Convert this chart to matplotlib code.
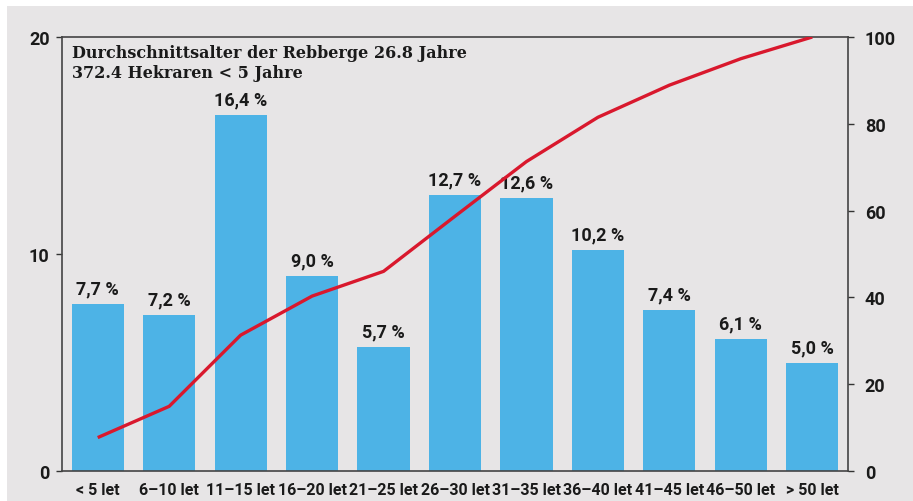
import matplotlib
matplotlib.use("Agg")
import matplotlib.pyplot as plt
from matplotlib.patches import Rectangle

# data
categories = ["< 5 let", "6–10 let", "11–15 let", "16–20 let", "21–25 let", "26–30 let",
              "31–35 let", "36–40 let", "41–45 let", "46–50 let", "> 50 let"]
shares = [7.7, 7.2, 16.4, 9.0, 5.7, 12.7, 12.6, 10.2, 7.4, 6.1, 5.0]
cumulative = [7.7, 14.9, 31.3, 40.3, 46.0, 58.7, 71.3, 81.5, 88.9, 95.0, 100.0]
left_ticks = [0, 10, 20]
right_ticks = [0, 20, 40, 60, 80, 100]
title_lines = ["Durchschnittsalter der Rebberge 26.8 Jahre", "372.4 Hekraren < 5 Jahre"]

BG = "#e7e5e6"
BAR = "#4db3e6"
RED = "#d9182d"
INK = "#1a1a1a"
SANS = ["Liberation Sans Narrow", "Roboto", "DejaVu Sans"]
SERIF = ["DejaVu Serif"]

fig = plt.figure(figsize=(9.13, 5.02), dpi=100, facecolor="white")
fig.patches.append(Rectangle((7 / 913, 0), 1, 1 - 7 / 502, transform=fig.transFigure,
                             facecolor=BG, edgecolor="none", zorder=-10))

ax = fig.add_axes([62 / 913, 1 - 472 / 502, 786 / 913, 434 / 502])
ax.set_facecolor("none")
x = range(len(categories))
bars = ax.bar(x, shares, width=0.73, color=BAR, zorder=2)
ax.set_xlim(-0.5, len(categories) - 0.5)
ax.set_ylim(0, 20)
ax.set_yticks(left_ticks)
ax.set_yticklabels([str(t) for t in left_ticks], fontsize=13, fontweight="bold",
                   family=["Roboto", "DejaVu Sans"], color=INK)
ax.set_xticks(list(x))
ax.set_xticklabels(categories, fontsize=11.5, fontweight="bold", family=SANS, color=INK)
ax.tick_params(axis="x", length=0, pad=8)
ax.tick_params(axis="y", direction="out", length=4, width=1, pad=5, color="#333333")

for s in ["left", "bottom", "top", "right"]:
    ax.spines[s].set_color("#444444")
    ax.spines[s].set_linewidth(1.2)

for b, v in zip(bars, shares):
    ax.text(b.get_x() + b.get_width() / 2, v + 0.3, f"{v:.1f} %".replace(".", ","),
            ha="center", va="bottom", fontsize=13, fontweight="bold",
            family=["Roboto", "DejaVu Sans"], color=INK)

ax.text(0.013, 0.985, title_lines[0] + "\n" + title_lines[1], transform=ax.transAxes,
        ha="left", va="top", fontsize=11.5, fontweight="bold", family=SERIF,
        color=INK, linespacing=1.25)

ax2 = ax.twinx()
ax2.plot(list(x), cumulative, color=RED, linewidth=2.4, zorder=3, solid_capstyle="butt")
ax2.set_ylim(0, 100)
ax2.set_yticks(right_ticks)
ax2.set_yticklabels([str(t) for t in right_ticks], fontsize=13, fontweight="bold",
                    family=["Roboto", "DejaVu Sans"], color=INK)
ax2.tick_params(axis="y", direction="out", length=4, width=1, pad=8, color="#333333")
for s in ax2.spines.values():
    s.set_visible(False)

fig.savefig("out.png", dpi=100, facecolor="white")
